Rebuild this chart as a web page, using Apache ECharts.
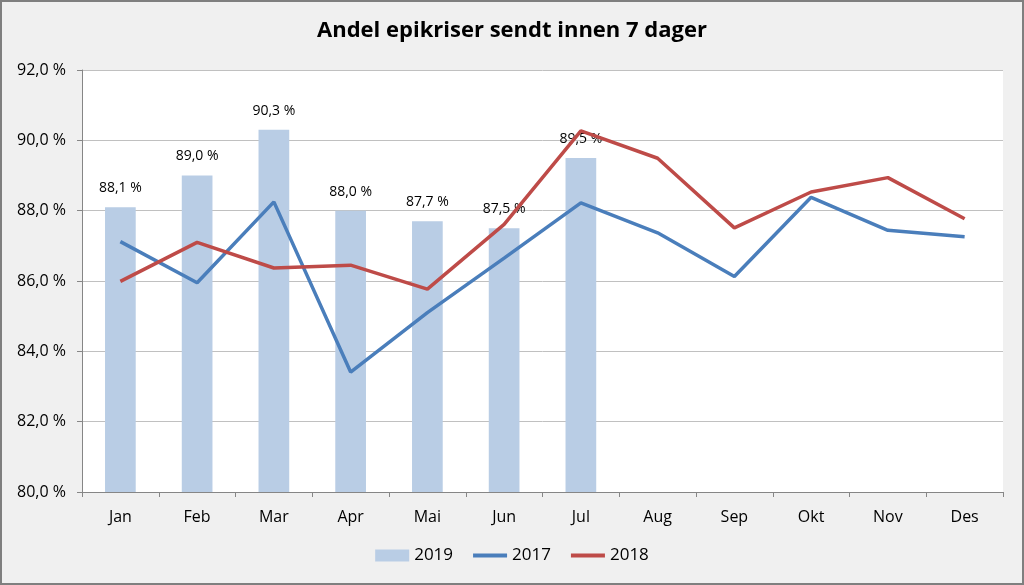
<!DOCTYPE html>
<html><head><meta charset="utf-8">
<script src="https://cdn.jsdelivr.net/npm/echarts@6/dist/echarts.min.js"></script>
<style>html,body{margin:0;padding:0;background:#f0f0f0}#c{width:1024px;height:585px}</style>
</head><body><div id="c"></div>
<script>
const categories = ['Jan','Feb','Mar','Apr','Mai','Jun','Jul','Aug','Sep','Okt','Nov','Des'];
const values2019 = [88.1, 89.0, 90.3, 88.0, 87.7, 87.5, 89.5];
const values2017 = [87.12, 85.95, 88.25, 83.41, 85.1, 86.65, 88.22, 87.37, 86.13, 88.38, 87.44, 87.26];
const values2018 = [85.99, 87.10, 86.37, 86.45, 85.77, 87.61, 90.27, 89.49, 87.51, 88.53, 88.94, 87.77];
const yTicks = {min: 80, max: 92, interval: 2};

const fmt = v => v.toFixed(1).replace('.', ',') + ' %';
const FONT = '"Open Sans", "Noto Sans", sans-serif';
const LINE_ICON = 'path://M0,0 L100,0 L100,12 L0,12 Z';

const chart = echarts.init(document.getElementById('c'));
chart.setOption({
  backgroundColor: '#f0f0f0',
  animation: false,
  textStyle: {fontFamily: FONT},
  title: {
    text: 'Andel epikriser sendt innen 7 dager',
    left: 'center', top: 15,
    textStyle: {fontSize: 22, fontWeight: 'bold', color: '#000', fontFamily: FONT}
  },
  legend: {
    bottom: 16, left: 'center',
    itemWidth: 34, itemHeight: 12, itemGap: 20,
    textStyle: {fontSize: 17, color: '#000', fontFamily: FONT},
    data: [{name: '2019', icon: 'rect'}, {name: '2017', icon: LINE_ICON}, {name: '2018', icon: LINE_ICON}]
  },
  grid: {left: 82, right: 21, top: 70, bottom: 93, show: true, backgroundColor: '#ffffff', borderWidth: 0},
  graphic: [{type: 'rect', shape: {x: 1, y: 1, width: 1022, height: 583}, style: {fill: 'none', stroke: '#7f7f7f', lineWidth: 2}, silent: true}],
  xAxis: {
    type: 'category', data: categories, boundaryGap: true,
    axisLine: {lineStyle: {color: '#868686'}},
    axisTick: {show: true, length: 5, lineStyle: {color: '#868686'}},
    axisLabel: {fontSize: 16, color: '#000', margin: 17}
  },
  yAxis: {
    type: 'value', min: yTicks.min, max: yTicks.max, interval: yTicks.interval,
    axisLine: {show: true, lineStyle: {color: '#868686'}},
    axisTick: {show: true, length: 5, lineStyle: {color: '#868686'}},
    axisLabel: {fontSize: 16, color: '#000', margin: 16, formatter: v => v.toFixed(1).replace('.', ',') + ' %'},
    splitLine: {lineStyle: {color: '#c0c0c0'}}
  },
  series: [
    {name: '2019', type: 'bar', data: values2019, barWidth: '40%',
     itemStyle: {color: '#b9cde5'},
     label: {show: true, position: 'top', distance: 12, fontSize: 14, color: '#000', formatter: p => fmt(p.value)}},
    {name: '2017', type: 'line', data: values2017, symbol: 'none', lineStyle: {color: '#4a7ebb', width: 3.5}, itemStyle: {color: '#4a7ebb'}},
    {name: '2018', type: 'line', data: values2018, symbol: 'none', lineStyle: {color: '#be4b48', width: 3.5}, itemStyle: {color: '#be4b48'}}
  ]
});
</script></body></html>
